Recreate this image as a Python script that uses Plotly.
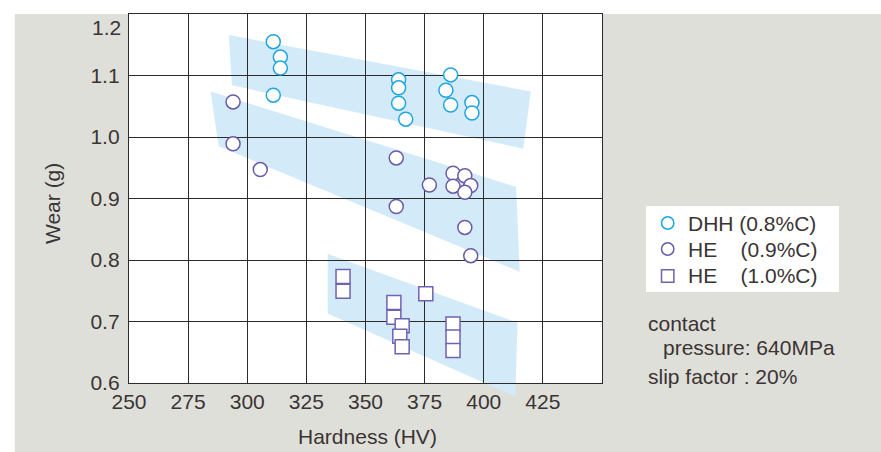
import plotly.graph_objects as go

# Hardness (HV) vs. wear (g) for three rail steels
dhh_hv = [311, 314, 314, 311, 364, 364, 364, 367, 386, 384, 386, 395, 395]
dhh_wear = [1.155, 1.130, 1.112, 1.068, 1.093, 1.080, 1.055, 1.029, 1.101, 1.076, 1.052, 1.056, 1.039]

he09_hv = [294, 294, 305.5, 363, 363, 377, 387, 387, 392, 394.5, 392, 392, 394.5]
he09_wear = [1.057, 0.989, 0.947, 0.966, 0.887, 0.922, 0.941, 0.920, 0.937, 0.921, 0.910, 0.853, 0.807]

he10_hv = [340.5, 340.5, 362, 362, 365.5, 364.5, 365.5, 375.5, 387, 387, 387]
he10_wear = [0.773, 0.749, 0.731, 0.707, 0.693, 0.676, 0.659, 0.745, 0.696, 0.675, 0.653]

series_names = ["DHH (0.8%C)", "HE\u00a0\u00a0\u00a0\u00a0(0.9%C)", "HE\u00a0\u00a0\u00a0\u00a0(1.0%C)"]

x_ticks = [250, 275, 300, 325, 350, 375, 400, 425]
y_ticks = [0.6, 0.7, 0.8, 0.9, 1.0, 1.1]
y_tick_text = ["0.6", "0.7", "0.8", "0.9", "1.0", "1.1"]

X_RANGE = (250, 450)
Y_RANGE = (0.6, 1.2)

# trend bands (hardness, wear corners)
bands = [
    [(292.2, 1.166), (419.9, 1.074), (416.7, 0.981), (293.5, 1.084)],
    [(284.5, 1.074), (413.7, 0.919), (415.2, 0.781), (287.9, 0.985)],
    [(334.0, 0.810), (414.3, 0.698), (413.3, 0.578), (334.0, 0.713)],
]

BG = "#dfdfd9"
TXT = "#3a3434"
GRID = "#2e2a2a"
CYAN = "#1ea5e2"
PURPLE = "#6a5aa8"
PURPLE_SQ = "#7062b2"
BAND = "#d3eaf8"
FONT = "Liberation Sans, Arial, sans-serif"

series_styles = [
    ("circle", CYAN),
    ("circle", PURPLE),
    ("square", PURPLE_SQ),
]

fig = go.Figure()

for (hv, wear), name, (sym, col) in zip(
        [(dhh_hv, dhh_wear), (he09_hv, he09_wear), (he10_hv, he10_wear)],
        series_names, series_styles):
    fig.add_trace(go.Scatter(
        x=hv, y=wear, mode="markers", name=name, showlegend=False,
        marker=dict(symbol=sym, size=14, color="white", line=dict(color=col, width=1.5)),
    ))


def to_domain(pt):
    x, y = pt
    return ((x - X_RANGE[0]) / (X_RANGE[1] - X_RANGE[0]),
            (y - Y_RANGE[0]) / (Y_RANGE[1] - Y_RANGE[0]))


shapes = []
for band in bands:
    pts = [to_domain(p) for p in band]
    path = "M " + " L ".join(f"{px:.4f},{py:.4f}" for px, py in pts) + " Z"
    shapes.append(dict(type="path", path=path, xref="x domain", yref="y domain",
                       fillcolor=BAND, line=dict(width=0), layer="below"))

# white page edges around the grey panel
shapes.append(dict(type="rect", xref="paper", yref="paper", x0=-0.3, x1=1.9, y0=1.0, y1=1.2,
                   fillcolor="white", line=dict(width=0), layer="below"))
shapes.append(dict(type="rect", xref="paper", yref="paper", x0=-0.3, x1=-0.2415, y0=-0.3, y1=1.2,
                   fillcolor="white", line=dict(width=0), layer="below"))

# legend box with symbols and labels
shapes.append(dict(type="rect", xref="paper", yref="paper", x0=1.0930, x1=1.5011,
                   y0=0.2466, y1=0.4797, fillcolor="white", line=dict(width=0), layer="below"))
legend_rows = [0.4336, 0.3631, 0.2900]
LEG_X = 1.1389
for row_y, name, (sym, col) in zip(legend_rows, series_names, series_styles):
    shapes.append(dict(type="circle" if sym == "circle" else "rect",
                       xref="paper", yref="paper", xsizemode="pixel", ysizemode="pixel",
                       xanchor=LEG_X, yanchor=row_y, x0=-6.2, x1=6.2, y0=-6.2, y1=6.2,
                       fillcolor="white", line=dict(color=col, width=1.5), layer="above"))

annotations = [
    dict(text="1.2", xref="paper", yref="y", x=-0.0133, y=1.2, xanchor="right", yanchor="middle",
         yshift=-13, showarrow=False, font=dict(size=21, color=TXT)),
    dict(text="Hardness (HV)", xref="paper", yref="paper", x=0.5032, y=-0.1463,
         xanchor="center", yanchor="middle", showarrow=False, font=dict(size=21, color=TXT)),
    dict(text="Wear (g)", xref="paper", yref="paper", x=-0.1628, y=0.4878, textangle=-90,
         xanchor="center", yanchor="middle", showarrow=False, font=dict(size=21, color=TXT)),
    dict(text="contact", xref="paper", yref="paper", x=1.093, y=0.1626,
         xanchor="left", yanchor="middle", showarrow=False, font=dict(size=21, color=TXT)),
    dict(text="pressure: 640MPa", xref="paper", yref="paper", x=1.1247, y=0.0949,
         xanchor="left", yanchor="middle", showarrow=False, font=dict(size=21, color=TXT)),
    dict(text="slip factor : 20%", xref="paper", yref="paper", x=1.093, y=0.0163,
         xanchor="left", yanchor="middle", showarrow=False, font=dict(size=21, color=TXT)),
]
for row_y, name in zip(legend_rows, series_names):
    annotations.append(dict(text=name, xref="paper", yref="paper", x=1.177, y=row_y,
                            xanchor="left", yanchor="middle", showarrow=False,
                            font=dict(size=21, color=TXT)))

fig.update_layout(
    width=881, height=452,
    margin=dict(l=129, r=279, t=14, b=69, pad=0),
    paper_bgcolor=BG, plot_bgcolor="white",
    font=dict(family=FONT, size=21, color=TXT),
    shapes=shapes, annotations=annotations,
    showlegend=False,
)

fig.update_xaxes(
    range=list(X_RANGE), tickmode="array", tickvals=x_ticks,
    ticktext=[str(v) for v in x_ticks], showgrid=True, gridcolor=GRID, gridwidth=1,
    zeroline=False, showline=True, linecolor=GRID, linewidth=1.3, mirror=True,
    ticks="", tickfont=dict(size=21, color=TXT),
)
fig.update_yaxes(
    range=list(Y_RANGE), tickmode="array", tickvals=y_ticks, ticktext=y_tick_text,
    showgrid=True, gridcolor=GRID, gridwidth=1,
    zeroline=False, showline=True, linecolor=GRID, linewidth=1.3, mirror=True,
    ticks="", ticklabelstandoff=4, tickfont=dict(size=21, color=TXT),
)

fig.write_html("out.html")
